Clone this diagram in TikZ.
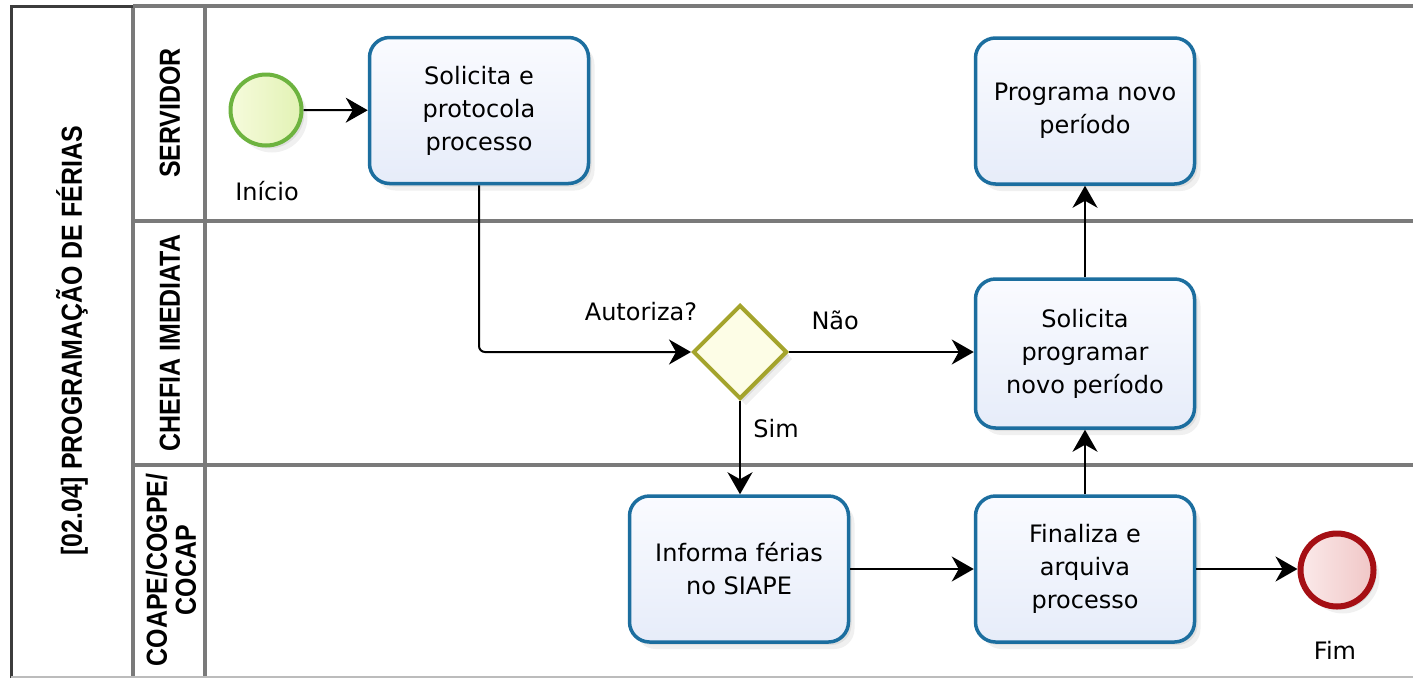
\documentclass[tikz,border=0pt]{standalone}
\usepackage{fontspec}
\setmainfont{DejaVu Sans}
\newfontfamily\lanefont[FakeStretch=0.86]{Liberation Sans}
\usetikzlibrary{arrows.meta,shapes.geometric,shadows}
\definecolor{taskblue}{HTML}{1C6E9F}
\definecolor{taskfillA}{HTML}{FAFBFF}
\definecolor{taskfillB}{HTML}{E6ECF9}
\definecolor{startgreen}{HTML}{6DB33F}
\definecolor{startfillA}{HTML}{F6FBDC}
\definecolor{startfillB}{HTML}{E2F2B4}
\definecolor{endred}{HTML}{A50F14}
\definecolor{endfillA}{HTML}{FBEAEA}
\definecolor{endfillB}{HTML}{F0C6C6}
\definecolor{gwolive}{HTML}{A4A42C}
\definecolor{gwfill}{HTML}{FDFDE6}
\definecolor{poolgray}{HTML}{7A7A7A}
\definecolor{pooldark}{HTML}{3C3C3C}
\tikzset{
  softshadow/.style={drop shadow={shadow xshift=3pt,shadow yshift=-3pt,opacity=0.07,fill=black},
                     drop shadow={shadow xshift=6pt,shadow yshift=-7pt,opacity=0.06,fill=black}},
  task/.style={draw=taskblue,line width=3.5pt,rounded corners=20pt,top color=taskfillA,bottom color=taskfillB,
     minimum width=219pt,minimum height=146pt,inner sep=0pt,align=center,
     font=\fontsize{24}{33}\selectfont,softshadow},
  startev/.style={circle,draw=startgreen,line width=4pt,left color=startfillA,right color=startfillB,
     minimum size=71pt,inner sep=0pt,softshadow},
  endev/.style={circle,draw=endred,line width=6pt,left color=endfillA,right color=endfillB,
     minimum size=73pt,inner sep=0pt,softshadow},
  gateway/.style={diamond,aspect=1,draw=gwolive,line width=4pt,fill=gwfill,
     minimum width=94pt,minimum height=94pt,inner sep=0pt,softshadow},
  flow/.style={line width=2pt,black,-{Stealth[length=22pt,width=25pt,inset=7pt]}},
  lbl/.style={font=\fontsize{24}{30}\selectfont,inner sep=0pt},
  lanelbl/.style={font=\lanefont\bfseries\fontsize{29}{29}\selectfont,rotate=90,align=center,inner sep=0pt},
  poolline/.style={draw=poolgray,line width=3.5pt},
}
\begin{document}
\begin{tikzpicture}[x=1pt,y=-1pt]
\useasboundingbox (0,0) rectangle (1413,678);
\fill[white] (0,0) rectangle (1413,678);
% pool and lanes
\draw[poolline] (133,6) -- (1413,6);
\draw[poolline] (133,221) -- (1413,221);
\draw[poolline] (133,465) -- (1413,465);
\draw[poolline] (133,6) -- (133,678);
\draw[poolline] (205,6) -- (205,678);
\draw[draw=pooldark,line width=3pt] (11,678) -- (11,6) -- (133,6);
\draw[draw=poolgray!50,line width=2pt] (11,677) -- (1413,677);
\node[lanelbl] (title) at (72,341) {[02.04] PROGRAMAÇÃO DE FÉRIAS};
\node[lanelbl] (l1) at (170,113) {SERVIDOR};
\node[lanelbl] (l2) at (170,343) {CHEFIA IMEDIATA};
\node[lanelbl] (l3) at (171,570) {COAPE/COGPE/\\COCAP};
% nodes
\node[startev] (start) at (266,110) {};
\node[lbl] (startlbl) at (267,191) {Início};
\node[task] (t1) at (479,110.5) {Solicita e\\protocola\\processo};
\node[task] (t4) at (1085,111) {Programa novo\\período};
\node[gateway] (gw) at (740,352) {};
\node[lbl] (gwlbl) at (641,312) {Autoriza?};
\node[task,minimum height=149pt] (t3) at (1085,353.5) {Solicita\\programar\\novo período};
\node[task] (t2) at (739,569) {Informa férias\\no SIAPE};
\node[task] (t5) at (1085,569) {Finaliza e\\arquiva\\processo};
\node[endev] (end) at (1337,570) {};
\node[lbl] (endlbl) at (1335,650) {Fim};
% flows
\draw[flow] (start) -- (t1);
\draw[flow,rounded corners=6pt] (t1.south) |- (gw.west);
\draw[flow] (gw.east) -- node[lbl,pos=0.25,yshift=32pt] (nao) {Não} (gw.east -| t3.west);
\draw[flow] (gw.south) -- node[lbl,pos=0.3,xshift=36pt] (sim) {Sim} (gw.south |- t2.north);
\draw[flow] (t3.north) -- (t4.south);
\draw[flow] (t2.east) -- (t5.west);
\draw[flow] (t5.north) -- (t3.south);
\draw[flow] (t5.east) -- (t5.east -| end.west);
\end{tikzpicture}
\end{document}
